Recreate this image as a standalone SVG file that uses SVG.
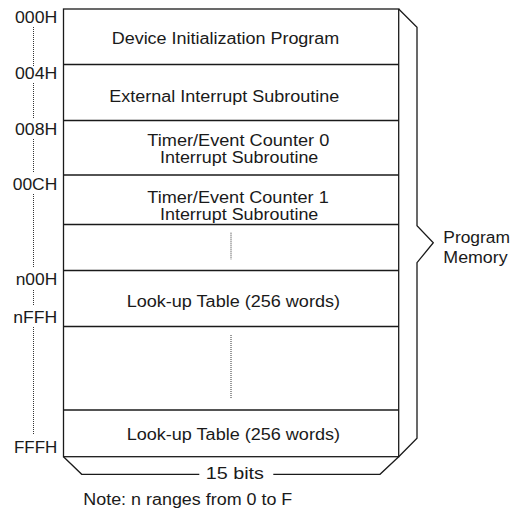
<svg xmlns="http://www.w3.org/2000/svg" width="513" height="516" viewBox="0 0 513 516">
<style>
  text { font-family: "Liberation Sans", Arial, sans-serif; font-size: 16px; fill: #1a1a1a; }
  .addr { text-anchor: end; }
  .box { fill: #ffffff; stroke: #1a1a1a; stroke-width: 1.3; }
  .line { fill: none; stroke: #1a1a1a; stroke-width: 1.3; }
  .dot { fill: none; stroke: #333333; stroke-width: 1; stroke-dasharray: 1 1; }
</style>
<rect width="513" height="516" fill="#ffffff"/>

<g id="memory-map">
  <rect class="box" x="63.5" y="9" width="335.2" height="447.7"/>
</g>

<g id="row-init">
  <text x="111.7" y="44" textLength="227.6" lengthAdjust="spacingAndGlyphs">Device Initialization Program</text>
</g>
<g id="row-ext">
  <line class="line" x1="63.5" y1="64.5" x2="398.7" y2="64.5"/>
  <text x="109.3" y="101.5" textLength="230" lengthAdjust="spacingAndGlyphs">External Interrupt Subroutine</text>
</g>
<g id="row-tmr0">
  <line class="line" x1="63.5" y1="120.5" x2="398.7" y2="120.5"/>
  <text x="147.3" y="146.3" textLength="182" lengthAdjust="spacingAndGlyphs">Timer/Event Counter 0</text>
  <text x="160" y="163.3" textLength="158.3" lengthAdjust="spacingAndGlyphs">Interrupt Subroutine</text>
</g>
<g id="row-tmr1">
  <line class="line" x1="63.5" y1="175" x2="398.7" y2="175"/>
  <text x="147.3" y="203" textLength="181.4" lengthAdjust="spacingAndGlyphs">Timer/Event Counter 1</text>
  <text x="160" y="220" textLength="158.3" lengthAdjust="spacingAndGlyphs">Interrupt Subroutine</text>
</g>
<g id="row-gap1">
  <line class="line" x1="63.5" y1="224.5" x2="398.7" y2="224.5"/>
  <line class="dot" x1="231" y1="232.7" x2="231" y2="259.3"/>
</g>
<g id="row-lut1">
  <line class="line" x1="63.5" y1="270.5" x2="398.7" y2="270.5"/>
  <text x="126.7" y="306.5" textLength="213.3" lengthAdjust="spacingAndGlyphs">Look-up Table (256 words)</text>
</g>
<g id="row-gap2">
  <line class="line" x1="63.5" y1="326.5" x2="398.7" y2="326.5"/>
  <line class="dot" x1="231" y1="335" x2="231" y2="398.3"/>
</g>
<g id="row-lut2">
  <line class="line" x1="63.5" y1="410" x2="398.7" y2="410"/>
  <text x="126.7" y="440" textLength="213.3" lengthAdjust="spacingAndGlyphs">Look-up Table (256 words)</text>
</g>

<g id="addresses">
  <text class="addr" x="57.3" y="22.7" textLength="42.3" lengthAdjust="spacingAndGlyphs">000H</text>
  <text class="addr" x="57.3" y="79" textLength="42.3" lengthAdjust="spacingAndGlyphs">004H</text>
  <text class="addr" x="57.3" y="135" textLength="42.3" lengthAdjust="spacingAndGlyphs">008H</text>
  <text class="addr" x="57.3" y="190" textLength="44.6" lengthAdjust="spacingAndGlyphs">00CH</text>
  <text class="addr" x="57.3" y="285" textLength="41.6" lengthAdjust="spacingAndGlyphs">n00H</text>
  <text class="addr" x="57.3" y="323.3" textLength="44" lengthAdjust="spacingAndGlyphs">nFFH</text>
  <text class="addr" x="57.3" y="453.3" textLength="43.3" lengthAdjust="spacingAndGlyphs">FFFH</text>
</g>

<g id="connectors">
  <g id="address-dots">
    <line class="dot" x1="33.5" y1="27" x2="33.5" y2="66"/>
    <line class="dot" x1="33.5" y1="83" x2="33.5" y2="118"/>
    <line class="dot" x1="33.5" y1="139" x2="33.5" y2="173"/>
    <line class="dot" x1="33.5" y1="194" x2="33.5" y2="268"/>
    <line class="dot" x1="33.5" y1="290" x2="33.5" y2="306"/>
    <line class="dot" x1="33.5" y1="327" x2="33.5" y2="434"/>
  </g>
  <path id="program-brace" class="line" d="M398.7,9 L417,27.3 L417,225.7 L433.3,242.7 L417,262.7 L417,438.3 L398.7,456.7"/>
  <path id="bits-brace-left" class="line" d="M63.5,456.7 L81.7,474.3 L199.3,474.3"/>
  <path id="bits-brace-right" class="line" d="M273.3,474.3 L380,474.3 L398.7,456.7"/>
</g>

<g id="program-memory-label">
  <text x="443.3" y="243.3" textLength="66.7" lengthAdjust="spacingAndGlyphs">Program</text>
  <text x="443.3" y="263.3" textLength="64.3" lengthAdjust="spacingAndGlyphs">Memory</text>
</g>
<g id="bits-label">
  <text x="205.7" y="479.3" textLength="58.3" lengthAdjust="spacingAndGlyphs">15 bits</text>
</g>
<g id="note">
  <text x="83.3" y="505.3" textLength="209" lengthAdjust="spacingAndGlyphs">Note: n ranges from 0 to F</text>
</g>
</svg>
